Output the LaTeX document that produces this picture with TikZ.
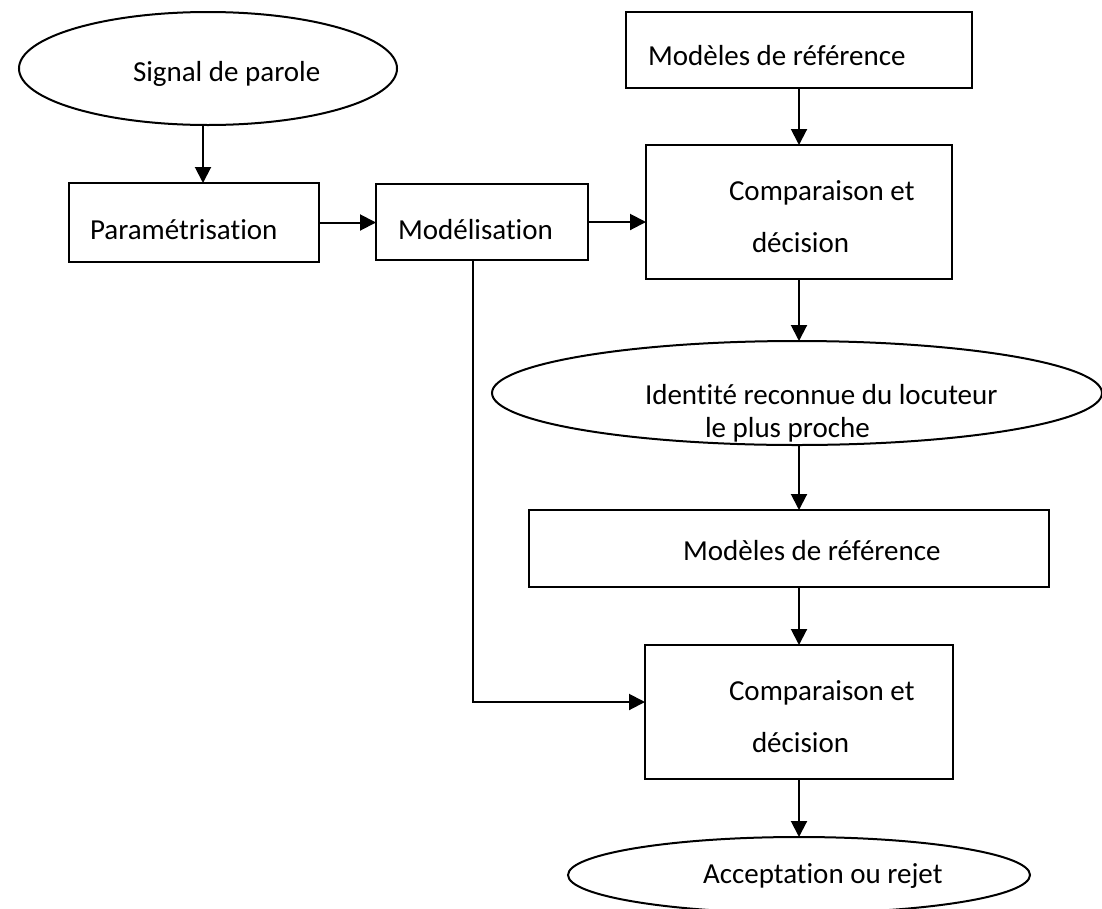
\documentclass[tikz,border=0pt]{standalone}
\usepackage{fontspec}
\setmainfont[Ligatures=NoCommon]{Carlito}
\usetikzlibrary{arrows.meta,shapes.geometric}
\begin{document}
\begin{tikzpicture}[x=1pt,y=-1pt,
  line width=2pt,
  every node/.style={inner sep=0pt,outer sep=0pt},
  box/.style={draw,rectangle},
  oval/.style={draw,ellipse},
  lbl/.style={anchor=base west,font=\fontsize{29}{34}\selectfont},
  arr/.style={-{Triangle[length=16pt,width=16pt]}}]
\useasboundingbox (0,0) rectangle (1102,908);

% shapes
\node[oval,minimum width=378,minimum height=113] (sig)  at (208,68.5) {};
\node[box,minimum width=250,minimum height=79]   (par)  at (194,222.5) {};
\node[box,minimum width=212,minimum height=76]   (mod)  at (482,222) {};
\node[box,minimum width=346,minimum height=76]   (ref1) at (799,50) {};
\node[box,minimum width=306,minimum height=134]  (cmp1) at (799,212) {};
\node[oval,minimum width=610,minimum height=104] (id)   at (797,393) {};
\node[box,minimum width=520,minimum height=77]   (ref2) at (789,548.5) {};
\node[box,minimum width=308,minimum height=134]  (cmp2) at (799,712) {};
\node[oval,minimum width=462,minimum height=76]  (acc)  at (799,875) {};

% texts
\node[lbl] (tsig)  at (133,81)  {Signal de parole};
\node[lbl] (tpar)  at (90,239)  {Paramétrisation};
\node[lbl] (tmod)  at (398,239) {Modélisation};
\node[lbl] (tref1) at (648,65)  {Modèles de référence};
\node[lbl] (tc1a)  at (729,200) {Comparaison et};
\node[lbl] (tc1b)  at (752,252) {décision};
\node[lbl] (tid1)  at (645,404) {Identité reconnue du locuteur};
\node[lbl] (tid2)  at (705,437) {le plus proche};
\node[lbl] (tref2) at (683,560) {Modèles de référence};
\node[lbl] (tc2a)  at (729,700) {Comparaison et};
\node[lbl] (tc2b)  at (752,752) {décision};
\node[lbl] (tacc)  at (703,883) {Acceptation ou rejet};

% connectors
\coordinate (xs) at (203,0);
\coordinate (bend) at (473,702);
\draw[arr] (sig.south -| xs) -- (par.north -| xs);
\draw[arr] (par.east) -- (mod.west |- par.east);
\draw[arr] (mod.east) -- (cmp1.west |- mod.east);
\draw[arr] (ref1.south) -- (cmp1.north);
\draw[arr] (cmp1.south) -- (id.north -| cmp1.south);
\draw[arr] (id.south -| cmp1.south) -- (ref2.north -| cmp1.south);
\draw[arr] (ref2.south -| cmp2.north) -- (cmp2.north);
\draw[arr] (mod.south -| bend) |- (cmp2.west |- bend);
\draw[arr] (cmp2.south) -- (acc.north);
\end{tikzpicture}
\end{document}
